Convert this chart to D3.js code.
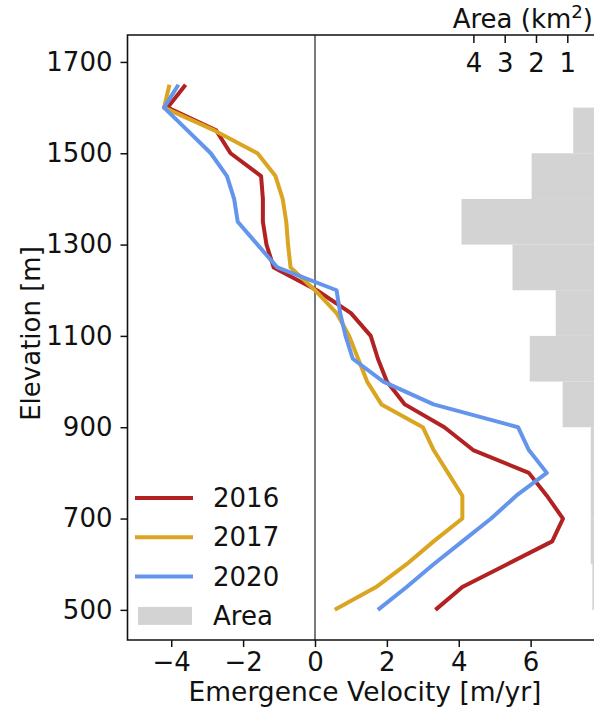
<!DOCTYPE html>
<html>
<head>
<meta charset="utf-8">
<script src="https://cdn.jsdelivr.net/npm/d3@7"></script>
<style>
  body { margin: 0; background: #fff; }
  svg { font-family: "DejaVu Sans", sans-serif; }
</style>
</head>
<body>
<div id="chart"></div>
<script>
// Elevation of each velocity sample (m)
const elevations = [500, 550, 600, 650, 700, 750, 800, 850, 900, 950, 1000, 1050,
                    1100, 1150, 1200, 1250, 1300, 1350, 1400, 1450, 1500, 1550, 1600, 1650];

// Emergence velocity (m/yr) per year, bottom to top
const v2016 = [3.35, 4.1, 5.35, 6.6, 6.9, 6.45, 5.95, 4.4, 3.6, 2.5, 2.0, 1.75,
               1.55, 1.0, 0.05, -1.15, -1.35, -1.45, -1.45, -1.5, -2.35, -2.75, -4.1, -3.6];
const v2017 = [0.55, 1.7, 2.55, 3.3, 4.1, 4.1, 3.7, 3.3, 3.0, 1.85, 1.45, 1.2,
               0.95, 0.6, 0.0, -0.68, -0.75, -0.8, -0.9, -1.1, -1.6, -2.8, -4.2, -4.05];
const v2020 = [1.75, 2.55, 3.3, 4.1, 4.9, 5.6, 6.45, 5.95, 5.65, 3.3, 1.9, 1.05,
               0.85, 0.7, 0.6, -1.05, -1.6, -2.15, -2.25, -2.45, -2.9, -3.55, -4.2, -3.8];

// Glacier area per 100 m elevation band (km2)
const areaBinStart = [500, 600, 700, 800, 900, 1000, 1100, 1200, 1300, 1400, 1500];
const areaValues = [0.2, 0.25, 0.25, 0.25, 1.15, 2.2, 1.37, 2.75, 4.38, 2.14, 0.81];

const yTicks = [500, 700, 900, 1100, 1300, 1500, 1700];
const xTicks = [-4, -2, 0, 2, 4, 6];
const areaTicks = [1, 2, 3, 4];

const series = [
  { name: "2016", values: v2016, color: "#b22222" },
  { name: "2017", values: v2017, color: "#daa520" },
  { name: "2020", values: v2020, color: "#6495ed" }
];

const W = 594, H = 711;
const mLeft = 127.5, mTop = 35, mRight = 600, mBottom = 640;
const fs = 26;

const svg = d3.select("#chart").append("svg")
  .attr("width", W).attr("height", H);

const x = d3.scaleLinear().domain([-5.217, 7.93]).range([mLeft, mRight]);
const y = d3.scaleLinear().domain([434, 1759]).range([mBottom, mTop]);
// area axis is reversed: 0 at the right edge
const xa = d3.scaleLinear().domain([0, 5]).range([598.6, 442.1]);

// area bars
svg.append("g").selectAll("rect")
  .data(areaBinStart)
  .enter().append("rect")
  .attr("x", (d, i) => xa(areaValues[i]))
  .attr("width", (d, i) => xa(0) - xa(areaValues[i]))
  .attr("y", d => y(d + 100))
  .attr("height", d => y(d) - y(d + 100))
  .attr("fill", "#d3d3d3");

// zero line
svg.append("line")
  .attr("x1", x(0)).attr("x2", x(0))
  .attr("y1", mTop).attr("y2", mBottom)
  .attr("stroke", "#222").attr("stroke-width", 1.2);

// velocity profiles
const line = d3.line()
  .x(d => x(d[0]))
  .y(d => y(d[1]));

svg.append("g").selectAll("path")
  .data(series)
  .enter().append("path")
  .attr("d", s => line(s.values.map((v, i) => [v, elevations[i]])))
  .attr("fill", "none")
  .attr("stroke", s => s.color)
  .attr("stroke-width", 4)
  .attr("stroke-linejoin", "round");

// axes
const xAxis = svg.append("g")
  .attr("transform", `translate(0,${mBottom})`)
  .call(d3.axisBottom(x).tickValues(xTicks).tickSize(7).tickPadding(6));
const yAxis = svg.append("g")
  .attr("transform", `translate(${mLeft},0)`)
  .call(d3.axisLeft(y).tickValues(yTicks).tickFormat(d3.format("d")).tickSize(7).tickPadding(8));
const aAxis = svg.append("g")
  .attr("transform", `translate(0,${mTop})`)
  .call(d3.axisBottom(xa).tickValues(areaTicks).tickFormat(d3.format("d")).tickSize(8).tickPadding(11));

[xAxis, yAxis, aAxis].forEach(g => {
  g.selectAll("text").attr("font-size", fs).attr("fill", "#111")
    .attr("font-family", "DejaVu Sans, sans-serif");
  g.selectAll("line").attr("stroke", "#111").attr("stroke-width", 1.5);
  g.select(".domain").remove();
});

// frame (top, left, bottom spines)
svg.append("path")
  .attr("d", `M${mRight},${mTop}H${mLeft}V${mBottom}H${mRight}`)
  .attr("fill", "none").attr("stroke", "#111").attr("stroke-width", 1.6);

// axis labels
svg.append("text")
  .attr("x", 365).attr("y", 701)
  .attr("text-anchor", "middle")
  .attr("font-size", fs + 0.5).attr("fill", "#111")
  .text("Emergence Velocity [m/yr]");

svg.append("text")
  .attr("transform", `translate(40,${(mTop + mBottom) / 2 - 4}) rotate(-90)`)
  .attr("text-anchor", "middle")
  .attr("font-size", fs).attr("fill", "#111")
  .text("Elevation [m]");

const aTitle = svg.append("text")
  .attr("x", 593).attr("y", 28)
  .attr("text-anchor", "end")
  .attr("font-size", fs).attr("fill", "#111");
aTitle.append("tspan").text("Area (km");
aTitle.append("tspan").attr("font-size", fs * 0.7).attr("dy", -10).text("2");
aTitle.append("tspan").attr("dy", 10).text(")");

// legend
const legend = svg.append("g").selectAll("g")
  .data(series.map(s => s.name).concat(["Area"]))
  .enter().append("g")
  .attr("transform", (d, i) => `translate(0,${498 + i * 39.3})`);

legend.filter(d => d !== "Area").append("line")
  .attr("x1", 135).attr("x2", 193)
  .attr("stroke", (d, i) => series[i].color)
  .attr("stroke-width", 4);

legend.filter(d => d === "Area").append("rect")
  .attr("x", 138).attr("y", -9).attr("width", 54).attr("height", 18)
  .attr("fill", "#d3d3d3");

legend.append("text")
  .attr("x", 213).attr("dy", "0.35em")
  .attr("font-size", fs).attr("fill", "#111")
  .text(d => d);
</script>
</body>
</html>
